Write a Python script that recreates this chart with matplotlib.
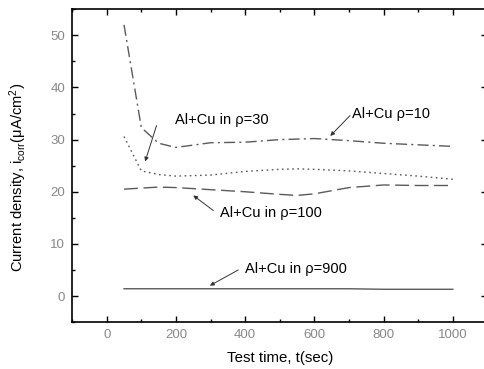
import matplotlib
matplotlib.use("Agg")
import matplotlib.pyplot as plt
from matplotlib.ticker import MultipleLocator

plt.rcParams['font.family'] = ['Liberation Sans', 'DejaVu Sans']
plt.rcParams['mathtext.fontset'] = 'custom'
plt.rcParams['mathtext.rm'] = 'Liberation Sans'
plt.rcParams['mathtext.it'] = 'Liberation Sans:italic'

# data
t = [50, 100, 150, 200, 300, 400, 500, 550, 600, 700, 800, 900, 1000]
rho10 = [52, 32.3, 29.3, 28.5, 29.4, 29.5, 30.0, 30.1, 30.2, 29.8, 29.3, 29.0, 28.7]
rho30 = [30.6, 24.0, 23.3, 23.0, 23.2, 23.9, 24.3, 24.4, 24.3, 24.0, 23.5, 23.0, 22.4]
rho100 = [20.5, 20.7, 20.9, 20.8, 20.4, 20.0, 19.5, 19.3, 19.6, 20.8, 21.3, 21.2, 21.2]
rho900 = [1.4, 1.4, 1.4, 1.4, 1.4, 1.4, 1.4, 1.4, 1.4, 1.4, 1.3, 1.3, 1.3]

labels = ['Al+Cu ρ=10', 'Al+Cu in ρ=30', 'Al+Cu in ρ=100', 'Al+Cu in ρ=900']
label_pos = [(708, 35.0), (197, 33.8), (327, 15.9), (400, 5.2)]
arrow_from = [(703, 34.6), (144, 32.7), (308, 16.4), (380, 5.0)]
arrow_to = [(646, 30.7), (111, 25.8), (250, 19.3), (298, 2.0)]

fig = plt.figure(figsize=(4.84, 3.69), dpi=100)
ax = fig.add_axes([0.149, 0.127, 0.858, 0.848])

lc = '#5a5a5a'
ax.plot(t, rho10, color=lc, lw=1.0, linestyle=(0, (8, 3, 1.5, 3)))
ax.plot(t, rho30, color=lc, lw=1.0, linestyle=(0, (1.2, 2.5)))
ax.plot(t, rho100, color=lc, lw=1.0, linestyle=(0, (10, 4)))
ax.plot(t, rho900, color=lc, lw=1.0)

arrow = dict(arrowstyle='-|>', color='#333333', lw=0.7, mutation_scale=6,
             shrinkA=0, shrinkB=0)
for lab, pos, a0, a1 in zip(labels, label_pos, arrow_from, arrow_to):
    ax.text(pos[0], pos[1], lab, fontsize=10.5, ha='left', va='center')
    ax.annotate('', xy=a1, xytext=a0, arrowprops=arrow)

ax.set_xlim(-100, 1100)
ax.set_ylim(-5, 55)
ax.xaxis.set_major_locator(MultipleLocator(200))
ax.xaxis.set_minor_locator(MultipleLocator(100))
ax.yaxis.set_major_locator(MultipleLocator(10))
ax.yaxis.set_minor_locator(MultipleLocator(5))
ax.tick_params(which='both', direction='in', top=True, right=True,
               labelsize=9.5, labelcolor='#888888', width=1.0)
ax.tick_params(which='major', length=4, pad=5)
ax.tick_params(which='minor', length=2.5)
for s in ax.spines.values():
    s.set_linewidth(1.2)

ax.set_xlabel('Test time, t(sec)', fontsize=10.8, labelpad=7)
ax.set_ylabel('Current density, i$_{\\rm corr}$(\u03bcA/cm$^2$)', fontsize=10.6)
ax.yaxis.set_label_coords(-0.105, 0.463)

fig.savefig('out.png', dpi=100)
